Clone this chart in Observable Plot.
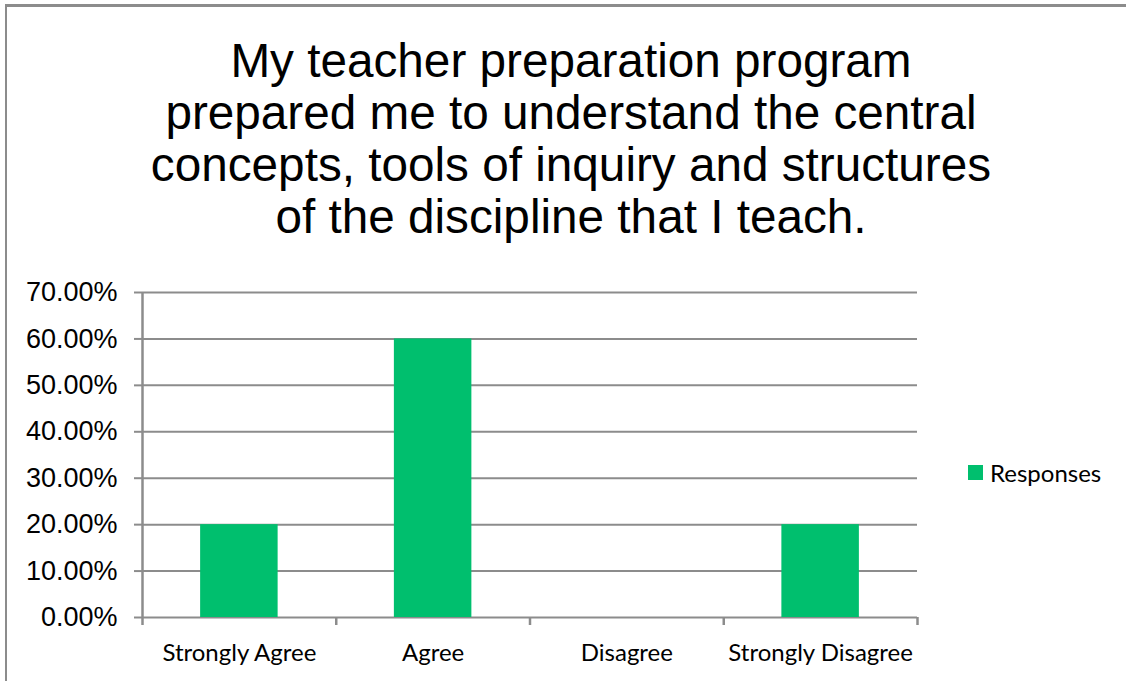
<!DOCTYPE html>
<html>
<head>
<meta charset="utf-8">
<script src="https://cdn.jsdelivr.net/npm/d3@7"></script>
<script src="https://cdn.jsdelivr.net/npm/@observablehq/plot@0.6"></script>
<style>
  html, body { margin: 0; padding: 0; background: #fff; overflow: hidden; }
  #page { position: relative; width: 1126px; height: 681px; background: #fff; }
  #frame { position: absolute; left: 5px; top: 4px; width: 1121px; height: 677px;
           border-top: 3px solid #8c8c8c; border-left: 2px solid #8c8c8c; box-sizing: border-box; }
  #title { position: absolute; left: 16px; width: 1110px; top: 35px; text-align: center;
           font-family: "Liberation Sans", Arial, sans-serif; font-size: 47.7px; line-height: 52px; color: #000; }
  #chart { position: absolute; left: 0; top: 270px; }
  #legend { position: absolute; left: 968px; top: 458px; display: flex; align-items: center;
            font-family: Lato, sans-serif; font-size: 24px; color: #000; }
  #legend .sw { width: 15px; height: 15px; background: #00BF6E; margin-right: 7px; }
</style>
</head>
<body>
<div id="page">
  <div id="frame"></div>
  <div id="title"></div>
  <div id="chart"></div>
  <div id="legend"><div class="sw"></div><span id="legendLabel"></span></div>
</div>
<script>
const titleLines = [
  "My teacher preparation program",
  "prepared me to understand the central",
  "concepts, tools of inquiry and structures",
  "of the discipline that I teach."
];
const categories = ["Strongly Agree", "Agree", "Disagree", "Strongly Disagree"];
const responses = [0.20, 0.60, 0.00, 0.20];
const seriesName = "Responses";
const yTicks = [0, 0.1, 0.2, 0.3, 0.4, 0.5, 0.6, 0.7];

const green = "#00BF6E";
const gray = "#8c8c8c";

document.getElementById("title").innerHTML = titleLines.map(l => `<div>${l}</div>`).join("");
document.getElementById("legendLabel").textContent = seriesName;

const data = categories.map((c, i) => ({category: c, pos: i, value: responses[i]}));
const boundaries = d3.range(categories.length + 1);
const centers = categories.map((c, i) => i + 0.5);

const chart = Plot.plot({
  width: 1126,
  height: 411,
  marginTop: 22,
  marginBottom: 64,
  marginLeft: 142,
  marginRight: 209,
  style: {fontFamily: "Liberation Sans, Arial, sans-serif", background: "transparent", color: "#000", overflow: "visible"},
  x: {type: "linear", domain: [0, categories.length]},
  y: {domain: [0, 0.7]},
  marks: [
    Plot.ruleY(yTicks, {y: d => d, stroke: gray, strokeWidth: 2}),
    Plot.ruleX([0], {x: d => d, y1: 0, y2: 0.7, stroke: gray, strokeWidth: 2.5}),
    Plot.rectY(data, {x1: d => d.pos + 0.3, x2: d => d.pos + 0.7, y1: 0, y2: "value", fill: green}),
    Plot.axisY({ticks: yTicks, tickSize: 8, tickPadding: 17, stroke: gray, strokeWidth: 2,
                tickFormat: d3.format(".2%"), fontSize: 27, fill: "#000", label: null}),
    Plot.axisX({ticks: boundaries, tickSize: 8, stroke: gray, strokeWidth: 2.5,
                tickFormat: () => "", label: null}),
    Plot.axisX({ticks: centers, tickSize: 0, tickPadding: 26,
                tickFormat: d => categories[Math.floor(d)], fontSize: 24,
                fontFamily: "Lato, sans-serif", fill: "#000", label: null})
  ]
});
document.getElementById("chart").appendChild(chart);
</script>
</body>
</html>
